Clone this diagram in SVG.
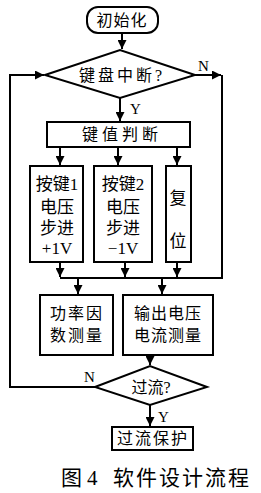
<svg xmlns="http://www.w3.org/2000/svg" width="261" height="493" viewBox="0 0 261 493">
<defs>
<marker id="ah" viewBox="0 0 10 10" refX="10" refY="5" markerWidth="9" markerHeight="9" markerUnits="userSpaceOnUse" orient="auto">
<path d="M0,0 L10,5 L0,10 z" fill="#000"/>
</marker>
<style>
.s{fill:#fff;stroke:#000;stroke-width:2}
.l{fill:none;stroke:#000;stroke-width:2}
.t{font-family:"Liberation Serif","Noto Sans CJK SC",serif;font-size:16px;fill:#000;text-anchor:middle}
.y{font-family:"Liberation Serif",serif;font-size:15px;fill:#000}
.c{font-family:"Liberation Serif","Noto Sans CJK SC",serif;font-size:21px;fill:#000}
</style>
</defs>
<rect width="261" height="493" fill="#fff"/>
<g id="connectors">
<path class="l" d="M122,33 V49" marker-end="url(#ah)"/>
<path class="l" d="M120,98 V121" marker-end="url(#ah)"/>
<path class="l" d="M195,75 H221" marker-end="url(#ah)"/>
<path class="l" d="M222,75 V278 H60"/>
<path class="l" d="M60,147 V165" marker-end="url(#ah)"/>
<path class="l" d="M118,147 V165" marker-end="url(#ah)"/>
<path class="l" d="M177,147 V165" marker-end="url(#ah)"/>
<path class="l" d="M60,262 V277" marker-end="url(#ah)"/>
<path class="l" d="M125,262 V277" marker-end="url(#ah)"/>
<path class="l" d="M177,262 V277" marker-end="url(#ah)"/>
<path class="l" d="M78,278 V294" marker-end="url(#ah)"/>
<path class="l" d="M162,278 V294" marker-end="url(#ah)"/>
<path class="l" d="M150,355 V365" marker-end="url(#ah)"/>
<path class="l" d="M95,387 H10 V75 H44" marker-end="url(#ah)"/>
<path class="l" d="M150,405 V426" marker-end="url(#ah)"/>
<text class="y" x="198" y="71">N</text>
<text class="y" x="130" y="114">Y</text>
<text class="y" x="84" y="382">N</text>
<text class="y" x="158" y="422">Y</text>
</g>
<g id="init">
<rect class="s" x="87" y="7" width="71" height="26" rx="11"/>
<text class="t" x="122" y="26" style="font-size:16px;letter-spacing:1px">初始化</text>
</g>
<g id="kbint">
<path class="s" d="M45,75 L120,50 L195,75 L120,98 Z"/>
<text class="t" x="122" y="81" style="font-size:16px;letter-spacing:3px">键盘中断?</text>
</g>
<g id="keyval">
<rect class="s" x="47" y="122" width="143" height="25"/>
<text class="t" x="122" y="140" style="font-size:16px;letter-spacing:4px">键值判断</text>
</g>
<g id="key1">
<rect class="s" x="30" y="166" width="53" height="96"/>
<text class="t" x="57" y="190" style="font-size:17px">按键1</text>
<text class="t" x="57" y="213" style="font-size:17px">电压</text>
<text class="t" x="57" y="234" style="font-size:17px">步进</text>
<text class="t" x="57" y="254" style="font-size:17px">+1V</text>
</g>
<g id="key2">
<rect class="s" x="94" y="166" width="58" height="96"/>
<text class="t" x="123" y="190" style="font-size:17px">按键2</text>
<text class="t" x="123" y="213" style="font-size:17px">电压</text>
<text class="t" x="123" y="234" style="font-size:17px">步进</text>
<text class="t" x="123" y="254" style="font-size:17px">−1V</text>
</g>
<g id="reset">
<rect class="s" x="166" y="166" width="25" height="96"/>
<text class="t" x="178" y="204" style="font-size:17px">复</text>
<text class="t" x="178" y="247" style="font-size:17px">位</text>
</g>
<g id="pf">
<rect class="s" x="40" y="295" width="73" height="60"/>
<text class="t" x="77" y="319" style="letter-spacing:2px">功率因</text>
<text class="t" x="77" y="341" style="letter-spacing:2px">数测量</text>
</g>
<g id="vi">
<rect class="s" x="123" y="295" width="90" height="60"/>
<text class="t" x="168" y="319" style="letter-spacing:1px">输出电压</text>
<text class="t" x="168" y="341" style="letter-spacing:1px">电流测量</text>
</g>
<g id="oc">
<path class="s" d="M95,387 L150,366 L207,387 L150,405 Z"/>
<text class="t" x="151" y="393" style="font-size:16px">过流?</text>
</g>
<g id="ocp">
<rect class="s" x="112" y="427" width="81" height="23"/>
<text class="t" x="153" y="444" style="font-size:16px;letter-spacing:2px">过流保护</text>
</g>
<text class="c" x="61" y="485">图</text>
<text class="c" x="87" y="485">4</text>
<text class="c" x="113" y="485" style="letter-spacing:2px">软件设计流程</text>
</svg>
